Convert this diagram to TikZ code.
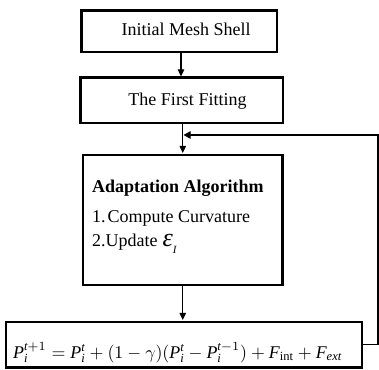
\documentclass[tikz,border=0pt]{standalone}
\usepackage{fontspec}
\setmainfont{Liberation Serif}
\usetikzlibrary{arrows.meta}
\begin{document}
\begin{tikzpicture}[x=1pt,y=-1pt,
  box/.style={draw,line width=2.2pt,inner sep=0pt},
  txt/.style={inner sep=0pt,font=\fontsize{18}{20}\selectfont},
  arr/.style={line width=1.1pt,-{Triangle[length=7pt,width=6.5pt]}},
  lin/.style={line width=1.1pt}]
\useasboundingbox (0,0) rectangle (379,369);
% boxes
\node[box,minimum width=195.5pt,minimum height=41.5pt] (b1) at (179.25,31.25) {};
\node[box,minimum width=202.5pt,minimum height=45.5pt] (b2) at (181.75,100.25) {};
\node[box,minimum width=199.5pt,minimum height=130pt] (b3) at (182.75,220) {};
\node[box,minimum width=356pt,minimum height=45.5pt] (b4) at (184,344.75) {};
% texts
\node[txt,anchor=base] (t1) at (186,35) {Initial Mesh Shell};
\node[txt,anchor=base] (t2) at (187.5,105) {The First Fitting};
\node[txt,anchor=base west] (t3) at (92,192) {\bfseries Adaptation Algorithm};
\node[txt,anchor=base west] (t4) at (92,222) {1.\kern2pt Compute Curvature};
\node[txt,anchor=base west] (t5) at (92,246) {2.Update\hspace{5pt}{\fontsize{26}{28}\selectfont\itshape ε}\raisebox{-7pt}{\fontsize{11}{12}\selectfont\textit{I}}};
\node[inner sep=0pt,anchor=base west] (f) at (13,358)
  {\resizebox{329pt}{!}{$\mathit{P}_{\mathit{i}}^{\mathit{t}+1}=\mathit{P}_{\mathit{i}}^{\mathit{t}}+(1-\gamma)(\mathit{P}_{\mathit{i}}^{\mathit{t}}-\mathit{P}_{\mathit{i}}^{\mathit{t}-1})+\mathit{F}_{\mathrm{int}}+\mathit{F}_{\mathit{ext}}$}};
% connectors
\draw[arr] ([xshift=1.75pt]b1.south) -- ([xshift=1.75pt]b1.south |- b2.north);
\draw[arr,shorten >=1pt] (b3.north |- b2.south) -- (b3.north);
\draw[arr,shorten >=1pt] (b3.south) -- (b3.south |- b4.north);
\coordinate (c2) at (378,135);
\coordinate (c1) at (b4.east -| c2);
\coordinate (c3) at ([xshift=0.8pt]b3.north |- c2);
\draw[lin,-{Triangle[length=7pt,width=7.5pt]}] (b4.east) -- (c1) -- (c2) -- (c3);
\end{tikzpicture}
\end{document}
